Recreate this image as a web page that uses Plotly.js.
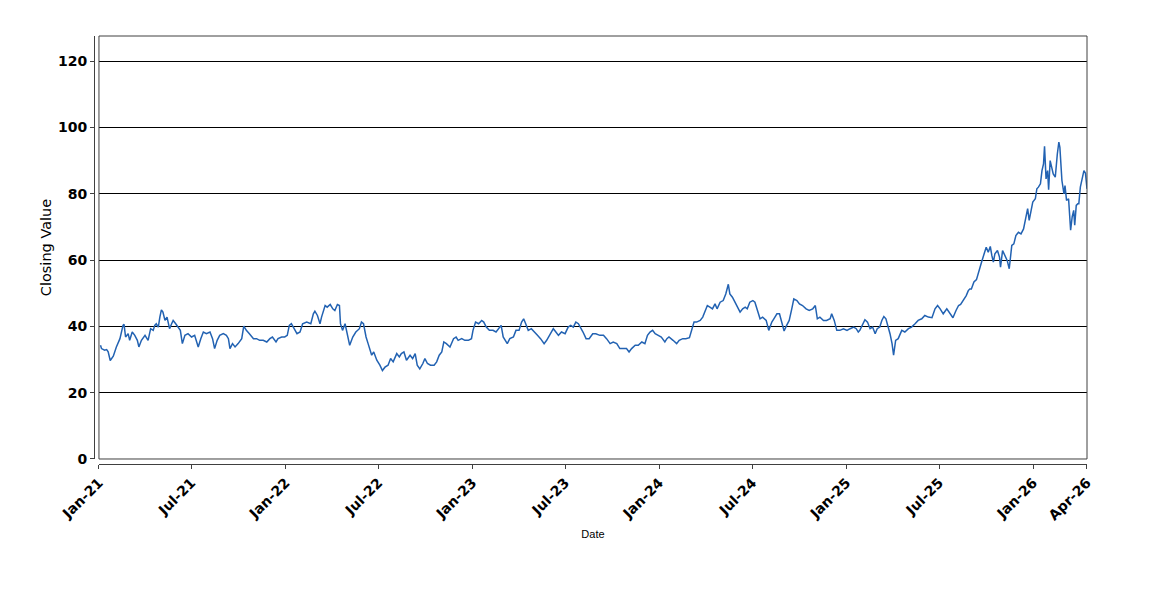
<!DOCTYPE html>
<html>
<head>
<meta charset="utf-8">
<script src="https://cdn.plot.ly/plotly-3.0.1.min.js"></script>
<style>html,body{margin:0;padding:0;background:#fff;}#chart{width:1150px;height:600px;}</style>
</head>
<body>
<div id="chart"></div>
<script>
var dates = [
"2021-01-04","2021-01-06","2021-01-12","2021-01-16","2021-01-19","2021-01-23","2021-01-29","2021-02-04","2021-02-11","2021-02-17",
"2021-02-19","2021-02-22","2021-02-27","2021-03-02","2021-03-07","2021-03-12","2021-03-17","2021-03-20","2021-03-25","2021-04-01",
"2021-04-07","2021-04-12","2021-04-17","2021-04-20","2021-04-23","2021-04-27","2021-04-30","2021-05-03","2021-05-06","2021-05-10",
"2021-05-14","2021-05-19","2021-05-23","2021-05-26","2021-05-31","2021-06-05","2021-06-09","2021-06-13","2021-06-18","2021-06-24",
"2021-07-01","2021-07-07","2021-07-14","2021-07-19","2021-07-24","2021-07-30","2021-08-06","2021-08-11","2021-08-15","2021-08-20",
"2021-08-25","2021-09-01","2021-09-07","2021-09-11","2021-09-14","2021-09-19","2021-09-24","2021-09-30","2021-10-07","2021-10-11",
"2021-10-16","2021-10-22","2021-10-30","2021-11-05","2021-11-11","2021-11-18","2021-11-25","2021-12-01","2021-12-06","2021-12-13",
"2021-12-17","2021-12-24","2021-12-30","2022-01-04","2022-01-08",
"2022-01-12","2022-01-19","2022-01-23","2022-01-29","2022-02-03","2022-02-11","2022-02-19","2022-02-24","2022-02-27","2022-03-04",
"2022-03-09","2022-03-12","2022-03-19","2022-03-23","2022-03-29","2022-04-03","2022-04-07","2022-04-12","2022-04-16","2022-04-18",
"2022-04-22","2022-04-27","2022-05-01","2022-05-06","2022-05-12","2022-05-18","2022-05-25","2022-05-29","2022-06-02","2022-06-07",
"2022-06-11","2022-06-18","2022-06-22","2022-06-28","2022-07-04","2022-07-09","2022-07-14","2022-07-20","2022-07-25","2022-07-30",
"2022-08-06","2022-08-11","2022-08-15","2022-08-20","2022-08-25","2022-09-01","2022-09-06","2022-09-11","2022-09-15","2022-09-20",
"2022-09-26","2022-09-30","2022-10-05","2022-10-11","2022-10-18","2022-10-23","2022-10-28","2022-11-02","2022-11-06","2022-11-11",
"2022-11-18","2022-11-25","2022-11-30","2022-12-04","2022-12-11","2022-12-17","2022-12-24","2022-12-30","2023-01-02","2023-01-07",
"2023-01-13",
"2023-01-19","2023-01-23","2023-01-28","2023-02-03","2023-02-10","2023-02-16","2023-02-21","2023-02-26","2023-03-02","2023-03-07",
"2023-03-10","2023-03-15","2023-03-22","2023-03-27","2023-04-02","2023-04-07","2023-04-11","2023-04-15","2023-04-20","2023-04-26",
"2023-05-03","2023-05-08","2023-05-14","2023-05-21","2023-05-26","2023-06-01","2023-06-08","2023-06-13","2023-06-18","2023-06-24",
"2023-07-01","2023-07-07","2023-07-12","2023-07-17","2023-07-22","2023-07-27","2023-07-31","2023-08-05","2023-08-11","2023-08-17",
"2023-08-24","2023-08-30","2023-09-07","2023-09-14","2023-09-20","2023-09-27","2023-10-03","2023-10-10","2023-10-16","2023-10-23",
"2023-10-29","2023-11-03","2023-11-08","2023-11-15","2023-11-21","2023-11-28","2023-12-04","2023-12-09","2023-12-14","2023-12-19",
"2023-12-24","2023-12-30","2024-01-05","2024-01-12","2024-01-16","2024-01-20",
"2024-01-22","2024-01-28","2024-02-04","2024-02-09","2024-02-16","2024-02-22","2024-02-29","2024-03-04","2024-03-09","2024-03-14",
"2024-03-21","2024-03-26","2024-03-31","2024-04-04","2024-04-09","2024-04-14","2024-04-19","2024-04-23","2024-04-29","2024-05-05",
"2024-05-10","2024-05-15","2024-05-18","2024-05-23","2024-05-28","2024-06-02","2024-06-07","2024-06-12","2024-06-17","2024-06-21",
"2024-06-26","2024-07-02","2024-07-06","2024-07-11","2024-07-16","2024-07-21","2024-07-28","2024-08-02","2024-08-08","2024-08-12",
"2024-08-18","2024-08-23","2024-08-27","2024-09-01","2024-09-06","2024-09-11","2024-09-16","2024-09-20","2024-09-26","2024-10-01",
"2024-10-07","2024-10-14","2024-10-20","2024-10-27","2024-11-01","2024-11-05","2024-11-10","2024-11-17","2024-11-23","2024-11-30",
"2024-12-03","2024-12-08","2024-12-13","2024-12-19","2024-12-26","2025-01-02","2025-01-08","2025-01-15","2025-01-20","2025-01-24",
"2025-01-27","2025-02-02","2025-02-06","2025-02-11","2025-02-16","2025-02-21","2025-02-26","2025-03-02","2025-03-07","2025-03-11",
"2025-03-15","2025-03-19","2025-03-24","2025-03-27","2025-03-31","2025-04-03","2025-04-07","2025-04-12","2025-04-19","2025-04-25",
"2025-05-02","2025-05-08","2025-05-15","2025-05-21","2025-05-28","2025-06-03","2025-06-10","2025-06-17","2025-06-23","2025-06-28",
"2025-07-03","2025-07-09","2025-07-16","2025-07-21","2025-07-28","2025-08-03","2025-08-08","2025-08-12","2025-08-17","2025-08-23",
"2025-08-27","2025-08-30",
"2025-09-02","2025-09-07","2025-09-12","2025-09-17","2025-09-22","2025-09-27","2025-10-01","2025-10-05","2025-10-09","2025-10-12",
"2025-10-15","2025-10-18","2025-10-23","2025-10-27","2025-10-29","2025-11-02","2025-11-07","2025-11-11","2025-11-15","2025-11-20",
"2025-11-24","2025-11-28","2025-12-03","2025-12-08","2025-12-13","2025-12-18","2025-12-21","2025-12-24","2025-12-27","2025-12-31",
"2026-01-05","2026-01-08","2026-01-11","2026-01-15","2026-01-18","2026-01-21","2026-01-23","2026-01-26","2026-01-29","2026-01-31",
"2026-02-03","2026-02-06","2026-02-09","2026-02-13","2026-02-15","2026-02-17","2026-02-20","2026-02-22","2026-02-26","2026-03-02",
"2026-03-04","2026-03-07","2026-03-11","2026-03-13","2026-03-15","2026-03-18","2026-03-21","2026-03-23","2026-03-26","2026-03-29",
"2026-03-31","2026-04-03","2026-04-07","2026-04-10","2026-04-13","2026-04-16"
];

var closingValues = [
34.3,33.3,32.8,33.0,32.3,29.7,31.0,33.8,36.3,40.3,
40.6,36.8,37.8,35.8,38.3,37.3,35.8,33.8,35.8,37.3,
35.8,39.3,38.8,40.3,40.8,39.8,42.8,45.0,44.3,41.8,
42.8,39.3,40.8,41.8,40.8,39.8,38.8,34.8,37.3,37.8,
36.8,37.3,33.8,36.3,38.3,37.8,38.3,36.3,33.3,35.8,
37.3,37.8,37.3,36.3,33.3,34.8,33.8,34.8,36.3,40.1,
38.8,37.8,36.3,36.3,35.8,35.8,35.3,36.3,36.8,35.3,
36.3,36.8,36.8,37.3,40.3,
40.8,38.8,37.8,38.3,40.8,41.3,40.8,43.8,44.6,43.3,
40.8,42.8,46.3,45.8,46.6,45.3,44.8,46.6,46.3,40.8,
38.8,40.8,37.8,34.3,36.8,38.3,39.3,41.3,40.8,36.8,
34.8,31.3,32.3,29.8,28.3,26.7,27.7,28.3,30.3,29.3,
31.8,30.8,31.8,32.3,29.8,31.3,30.3,31.8,28.3,27.2,
28.8,30.3,28.8,28.3,28.3,29.3,31.3,32.3,35.3,34.8,
33.8,36.3,36.8,35.8,36.3,35.8,35.8,36.3,38.8,41.3,
40.8,
41.8,41.3,39.8,38.8,38.8,38.3,39.3,40.3,36.8,35.3,
34.8,36.3,36.8,38.8,38.8,41.3,42.3,40.8,38.8,39.3,
38.3,37.3,36.3,34.8,35.8,37.3,39.3,38.3,37.3,38.3,
37.8,39.8,40.3,39.8,41.3,40.8,39.8,38.3,36.3,36.3,
37.8,37.8,37.3,37.3,36.3,34.8,35.3,34.8,33.3,33.3,
33.3,32.3,33.3,34.3,34.3,35.3,34.8,37.3,38.3,38.8,
37.8,37.3,36.8,35.3,36.3,36.8,
36.6,35.8,34.8,35.8,36.3,36.3,36.6,38.8,41.3,41.3,
41.8,42.8,44.8,46.3,45.8,45.3,46.8,45.3,47.3,47.8,
49.8,52.7,49.8,48.8,47.3,45.8,44.3,45.3,45.8,45.3,
47.3,47.8,47.3,44.8,42.3,42.8,41.8,38.8,41.3,42.3,
43.8,43.8,41.3,38.6,40.3,41.8,45.3,48.3,47.8,46.8,
46.3,45.3,44.8,45.3,46.3,42.3,42.8,41.8,41.8,42.3,
43.8,41.8,38.8,38.8,39.3,38.8,39.3,39.8,39.3,38.3,
38.8,40.8,42.0,41.3,39.3,39.8,37.8,39.3,39.8,41.8,
43.0,42.3,39.6,37.8,34.8,31.3,35.8,36.3,38.8,38.3,
39.3,39.8,40.8,41.8,42.3,43.3,42.8,42.6,45.3,46.3,
45.3,43.8,45.3,44.3,42.6,44.8,46.3,46.6,47.8,49.3,
50.8,51.3,
51.3,53.4,54.1,56.4,59.4,61.9,63.9,62.4,64.1,61.4,
59.4,61.9,62.9,60.9,57.9,62.9,60.9,59.9,57.4,64.4,
64.9,67.4,68.4,67.9,69.4,74.0,75.5,72.0,74.0,77.5,
78.5,81.5,82.0,83.0,87.0,89.0,94.3,84.5,87.0,81.2,
90.0,88.0,86.0,85.0,89.5,92.0,95.6,94.0,84.0,80.0,
82.5,78.0,78.5,75.0,69.0,73.0,75.0,70.5,76.5,77.0,
77.0,82.0,84.5,87.0,86.2,81.5
];

var xTickDates = ["2021-01-01","2021-07-01","2022-01-01","2022-07-01","2023-01-01","2023-07-01","2024-01-01","2024-07-01","2025-01-01","2025-07-01","2026-01-01","2026-04-16"];
var xTickLabels = ["Jan-21","Jul-21","Jan-22","Jul-22","Jan-23","Jul-23","Jan-24","Jul-24","Jan-25","Jul-25","Jan-26","Apr-26"];
var yTickValues = [0,20,40,60,80,100,120];

var trace = {
  type: "scatter",
  mode: "lines",
  x: dates,
  y: closingValues,
  line: {color: "#2262b2", width: 1.5},
  hoverinfo: "x+y"
};

var axisColor = "#404040";
var tickFont = {family: "DejaVu Sans", size: 14, color: "#000000", weight: "bold"};

var layout = {
  width: 1150,
  height: 600,
  margin: {l: 94, r: 63, t: 36, b: 136, pad: 0},
  paper_bgcolor: "#ffffff",
  plot_bgcolor: "#ffffff",
  showlegend: false,
  xaxis: {
    type: "date",
    domain: [0.005, 1],
    anchor: "free",
    position: 0,
    range: ["2021-01-01", "2026-04-16"],
    tickmode: "array",
    tickvals: xTickDates,
    ticktext: xTickLabels,
    tickangle: -45,
    ticks: "outside",
    ticklen: 4,
    tickcolor: axisColor,
    showline: true,
    linecolor: axisColor,
    linewidth: 1,
    showgrid: false,
    zeroline: false,
    tickfont: tickFont,
    automargin: false,
    title: {text: "Date", font: {family: "Liberation Sans", size: 11, color: "#000000"}, standoff: 7}
  },
  yaxis: {
    domain: [0.0117, 1],
    anchor: "free",
    position: 0,
    range: [0, 127.6],
    tickmode: "array",
    tickvals: yTickValues,
    ticks: "outside",
    ticklen: 4,
    tickcolor: axisColor,
    showline: true,
    linecolor: axisColor,
    linewidth: 1,
    showgrid: true,
    gridcolor: "#000000",
    gridwidth: 1,
    zeroline: false,
    tickfont: tickFont,
    automargin: false,
    title: {text: "Closing Value", font: {family: "DejaVu Sans", size: 14.5, color: "#000000"}, standoff: 1}
  },
  shapes: [{
    type: "rect", xref: "paper", yref: "paper",
    x0: 0.005, x1: 1, y0: 0.0117, y1: 1,
    line: {color: axisColor, width: 1},
    fillcolor: "rgba(0,0,0,0)"
  }]
};

Plotly.newPlot("chart", [trace], layout, {displayModeBar: false, staticPlot: true});
</script>
</body>
</html>
